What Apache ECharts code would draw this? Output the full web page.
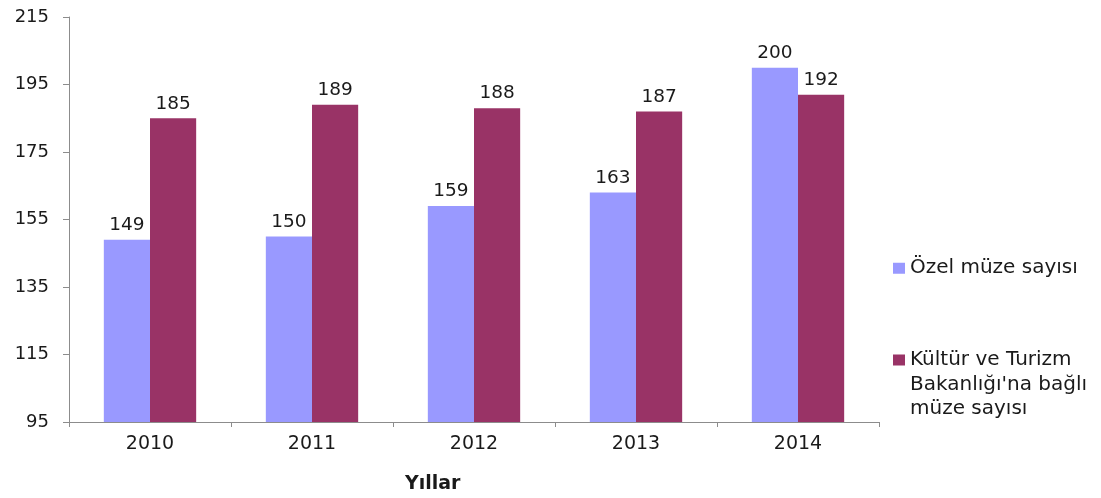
<!DOCTYPE html>
<html><head><meta charset="utf-8">
<script src="https://cdn.jsdelivr.net/npm/echarts@6/dist/echarts.min.js"></script>
<style>html,body{margin:0;padding:0;background:#fff}#c{width:1101px;height:498px}</style>
</head><body><div id="c"></div>
<script>
const categories = ['2010','2011','2012','2013','2014'];
const ozelMuze = [149,150,159,163,200];
const bakanlikMuze = [185,189,188,187,192];
const seriesNames = ['Özel müze sayısı', 'Kültür ve Turizm Bakanlığı\'na bağlı müze sayısı'];
const yTicks = [95,115,135,155,175,195,215];

const chart = echarts.init(document.getElementById('c'));
const font = '"DejaVu Sans", Arial, sans-serif';
const legendText = {fontSize:20, color:'#1a1a1a', fontFamily:font, lineHeight:24.5};
chart.setOption({
  animation:false,
  textStyle:{fontFamily:font},
  grid:{left:69, right:222, top:17, bottom:76, containLabel:false},
  legend:[
    {data:[seriesNames[0]], orient:'vertical', left:893, top:256, padding:0, itemWidth:12, itemHeight:11,
     icon:'rect', textStyle:legendText},
    {data:[seriesNames[1]], orient:'vertical', left:893, top:348, padding:0, itemWidth:12, itemHeight:73.5,
     icon:'path://M0,0L0.01,0L0,0ZM0,6.5L12,6.5L12,17.5L0,17.5ZM0,73.5L0.01,73.5L0,73.5Z',
     textStyle:legendText,
     formatter:function(){ return 'Kültür ve Turizm\nBakanlığı\'na bağlı\nmüze sayısı'; }}
  ],
  xAxis:{
    type:'category', data:categories,
    axisLine:{lineStyle:{color:'#8c8c8c', width:1}},
    axisTick:{show:true, length:5, lineStyle:{color:'#8c8c8c'}},
    axisLabel:{fontSize:19, color:'#1a1a1a', margin:13, fontFamily:font}
  },
  yAxis:{
    type:'value', min:yTicks[0], max:yTicks[yTicks.length-1], interval:20,
    splitLine:{show:false},
    axisLine:{show:true, lineStyle:{color:'#8c8c8c', width:1}},
    axisTick:{show:true, length:6, lineStyle:{color:'#8c8c8c'}},
    axisLabel:{fontSize:18, color:'#1a1a1a', margin:20, fontFamily:font}
  },
  graphic:[{type:'text', left:405, top:475, style:{text:'Yıllar', font:'bold 19px '+font, fill:'#1a1a1a'}}],
  series:[
    {name:seriesNames[0], type:'bar', data:ozelMuze, barGap:'0%', barCategoryGap:'43%',
     itemStyle:{color:'#9999FF'},
     label:{show:true, position:'top', fontSize:18.5, color:'#1a1a1a', distance:5, fontFamily:font}},
    {name:seriesNames[1], type:'bar', data:bakanlikMuze, barGap:'0%', barCategoryGap:'43%',
     itemStyle:{color:'#993366'},
     label:{show:true, position:'top', fontSize:18.5, color:'#1a1a1a', distance:5, fontFamily:font}}
  ]
});
</script></body></html>
